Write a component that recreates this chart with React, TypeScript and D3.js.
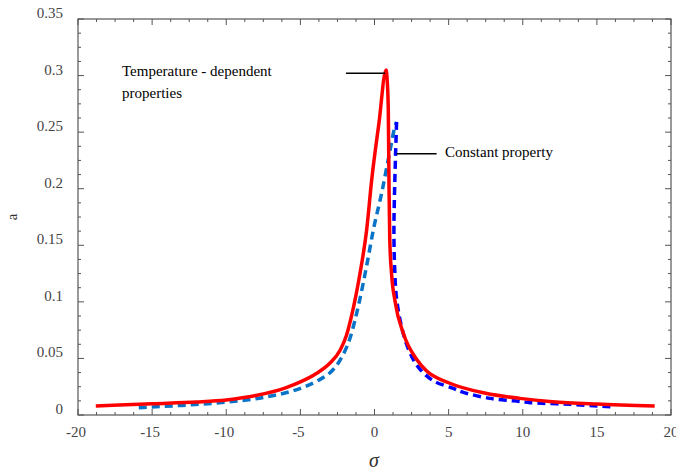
import React from 'react';
import * as d3 from 'd3';

// temperature-dependent properties (red, solid)
const tempSigma = [-18.8, -15, -12, -10, -8, -6, -5, -3.9, -3.0, -2.33, -1.9, -1.54, -0.98, -0.53, -0.19, 0.3, 0.78, 0.86, 0.93, 0.98, 1.03, 1.15, 1.38, 1.95, 2.85, 3.5, 5.0, 7.5, 9.8, 12, 15, 18.9];
const tempA = [0.008, 0.01, 0.0115, 0.0133, 0.0172, 0.024, 0.0292, 0.0369, 0.046, 0.057, 0.07, 0.088, 0.125, 0.1635, 0.2077, 0.258, 0.305, 0.295, 0.27, 0.2, 0.155, 0.125, 0.101, 0.072, 0.049, 0.039, 0.0285, 0.0192, 0.0147, 0.0118, 0.0097, 0.008];

// constant property, rising branch (light blue dashed)
const constLeftSigma = [-15.9, -13, -10.1, -7.5, -5, -3.8, -2.8, -2.3, -1.65, -1.0, -0.5, -0.08, 0.48, 1.05, 1.38, 1.49];
const constLeftA = [0.0065, 0.0085, 0.0112, 0.0155, 0.0236, 0.0305, 0.04, 0.049, 0.068, 0.1016, 0.134, 0.1635, 0.196, 0.234, 0.255, 0.259];

// constant property, falling branch (blue dashed)
const constRightSigma = [1.49, 1.42, 1.34, 1.31, 1.36, 1.5, 1.94, 2.5, 3.1, 4, 5.3, 6.0, 7.8, 9.4, 10.5, 13.2, 16.0];
const constRightA = [0.259, 0.23, 0.19, 0.161, 0.13, 0.1016, 0.072, 0.052, 0.04, 0.03, 0.0236, 0.02, 0.0147, 0.0125, 0.0109, 0.0094, 0.0073];

const xTicks = [-20, -15, -10, -5, 0, 5, 10, 15, 20];
const yTicks = [0, 0.05, 0.1, 0.15, 0.2, 0.25, 0.3, 0.35];
const yTickLabels = ['0', '0.05', '0.1', '0.15', '0.2', '0.25', '0.3', '0.35'];

const W = 676;
const H = 473;
const FONT = "'Liberation Serif', 'Times New Roman', 'DejaVu Serif', serif";

const App = () => {
  const left = 78, right = 671, top = 19, bottom = 415;
  const x = d3.scaleLinear().domain([-20, 20]).range([left, right]);
  const y = d3.scaleLinear().domain([0, 0.35]).range([bottom, top]);

  const pts = (s: number[], a: number[]) => s.map((v, i) => [v, a[i]] as [number, number]);
  const smooth = d3.line<[number, number]>()
    .x(d => x(d[0]))
    .y(d => y(d[1]))
    .curve(d3.curveMonotoneX);
  const loose = d3.line<[number, number]>()
    .x(d => x(d[0]))
    .y(d => y(d[1]))
    .curve(d3.curveCatmullRom.alpha(0.5));

  const xMinor = d3.range(-20, 20.001, 1.25);
  const yMinor = d3.range(0, 0.35001, 0.0125);

  const axisColor = '#555';

  return (
    <svg width={W} height={H} style={{ position: 'absolute', left: 0, top: 0, background: '#fff', fontFamily: FONT }}>
      <rect x={0} y={0} width={W} height={H} fill="#fff" />
      {/* frame */}
      <rect x={left} y={top} width={right - left} height={bottom - top} fill="none" stroke={axisColor} strokeWidth={1.2} />

      {/* x ticks, bottom and top, pointing inward */}
      {xMinor.map((t, i) => {
        const len = i % 4 === 0 ? 6 : 3;
        return (
          <g key={'xt' + i} stroke={axisColor} strokeWidth={1}>
            <line x1={x(t)} x2={x(t)} y1={bottom} y2={bottom - len} />
            <line x1={x(t)} x2={x(t)} y1={top} y2={top + len} />
          </g>
        );
      })}
      {/* y ticks, left and right, pointing inward */}
      {yMinor.map((t, i) => {
        const len = i % 4 === 0 ? 6 : 3;
        return (
          <g key={'yt' + i} stroke={axisColor} strokeWidth={1}>
            <line x1={left} x2={left + len} y1={y(t)} y2={y(t)} />
            <line x1={right} x2={right - len} y1={y(t)} y2={y(t)} />
          </g>
        );
      })}

      {xTicks.map(t => (
        <text key={'xl' + t} x={x(t) - (t < 0 ? 2 : 0)} y={437} textAnchor="middle" fontSize={15} fill="#444" style={{ fontFamily: FONT }}>{String(t)}</text>
      ))}
      {yTicks.map((t, i) => (
        <text key={'yl' + t} x={63} y={y(t) - 1} textAnchor="end" fontSize={15} fill="#444" style={{ fontFamily: FONT }}>{yTickLabels[i]}</text>
      ))}

      {/* axis titles */}
      <text x={374} y={467} textAnchor="middle" fontSize={20} fontStyle="italic" fill="#333" style={{ fontFamily: FONT }}>σ</text>
      <text transform="translate(17,217) rotate(-90)" textAnchor="middle" fontSize={15} fill="#333" style={{ fontFamily: FONT }}>a</text>

      {/* curves */}
      <path d={smooth(pts(constLeftSigma, constLeftA)) || ''} fill="none" stroke="#0a74c8" strokeWidth={3.5} strokeDasharray="8,5" />
      <path d={loose(pts(constRightSigma, constRightA)) || ''} fill="none" stroke="#0000ff" strokeWidth={3.5} strokeDasharray="8,5" />
      <path d={smooth(pts(tempSigma, tempA)) || ''} fill="none" stroke="#ff0000" strokeWidth={3.5} strokeLinejoin="round" />

      {/* annotations */}
      <line x1={x(-1.92)} x2={x(0.71)} y1={y(0.302)} y2={y(0.302)} stroke="#000" strokeWidth={1.5} />
      <text x={122} y={76} fontSize={15} fill="#000" style={{ fontFamily: FONT }}>Temperature - dependent</text>
      <text x={122} y={98} fontSize={15} fill="#000" style={{ fontFamily: FONT }}>properties</text>
      <line x1={x(1.49)} x2={x(4.19)} y1={y(0.231)} y2={y(0.231)} stroke="#000" strokeWidth={1.5} />
      <text x={445} y={157} fontSize={15} fill="#000" style={{ fontFamily: FONT }}>Constant property</text>
    </svg>
  );
};

export default App;
